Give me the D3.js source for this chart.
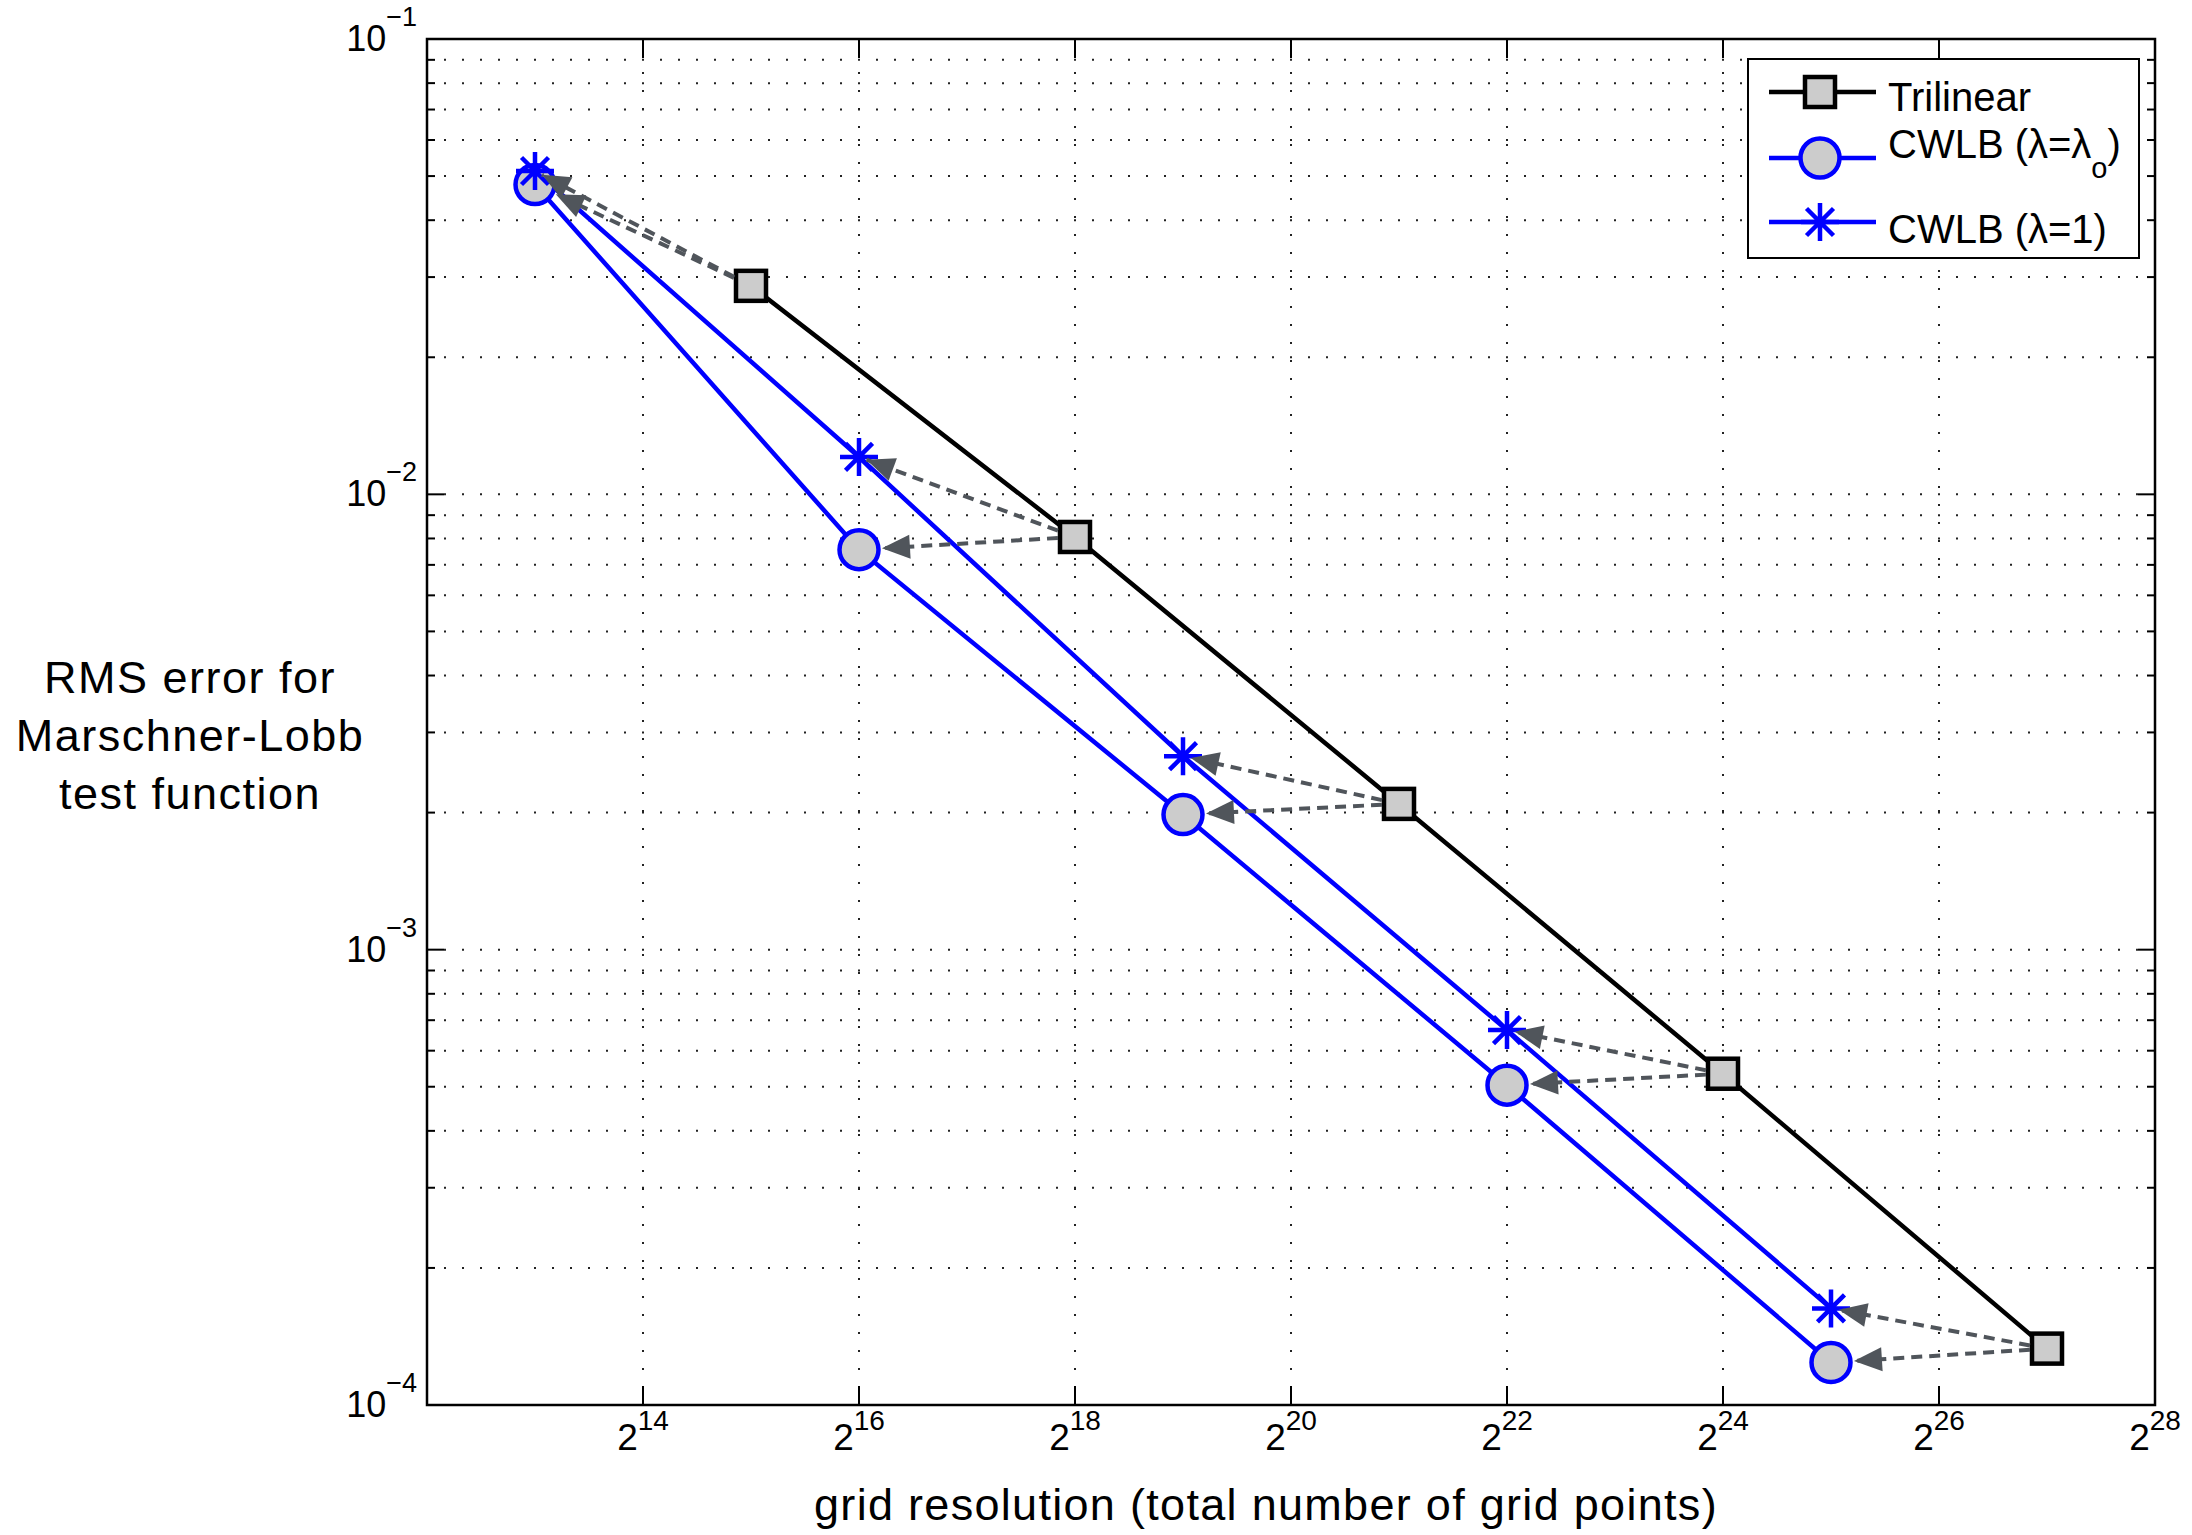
<!DOCTYPE html>
<html>
<head>
<meta charset="utf-8">
<script src="https://cdn.jsdelivr.net/npm/d3@7"></script>
<style>
body { margin: 0; background: #fff; overflow: hidden; }
svg { display: block; }
text { font-family: "Liberation Sans", Arial, Helvetica, sans-serif; fill: #000; }
</style>
</head>
<body>
<script>
// grid sizes as powers of two, RMS errors
var trilinearExp = [15, 18, 21, 24, 27];
var trilinearErr = [0.0287, 0.00806, 0.00209, 0.000534, 0.000133];
var cwlbExp = [13, 16, 19, 22, 25];
var cwlbOptErr = [0.0479, 0.00756, 0.00198, 0.000504, 0.000124];
var cwlbOneErr = [0.0513, 0.01208, 0.00266, 0.000666, 0.000163];
var xTickExp = [14, 16, 18, 20, 22, 24, 26, 28];
var yTickExp = [-4, -3, -2, -1];

var W = 2192, H = 1535;
var margin = {top: 39, right: 37, bottom: 130, left: 427};
var gray = "#cccccc", blue = "#0000ff", arrowCol = "#50555b";

var svg = d3.select("body").append("svg")
    .attr("width", W)
    .attr("height", H);

var x = d3.scaleLog().base(2).domain([Math.pow(2, 12), Math.pow(2, 28)])
    .range([margin.left, W - margin.right]);
var y = d3.scaleLog().domain([1e-4, 1e-1])
    .range([H - margin.bottom, margin.top]);

var x0 = x.range()[0], x1 = x.range()[1], y0 = y.range()[0], y1 = y.range()[1];

//Dotted grid
var grid = svg.append("g").attr("stroke", "#222").attr("stroke-width", 2)
    .attr("stroke-dasharray", "2,16");
var yAll = y.ticks().filter(function(v) { return v > 1.0001e-4 && v < 0.0999; });
grid.selectAll(".hg").data(yAll).enter().append("line")
    .attr("x1", x0).attr("x2", x1)
    .attr("y1", function(d) { return y(d); }).attr("y2", function(d) { return y(d); })
    .attr("stroke-dashoffset", -17);
grid.selectAll(".vg").data(xTickExp.slice(0, -1)).enter().append("line")
    .attr("y1", y0).attr("y2", y1)
    .attr("x1", function(d) { return x(Math.pow(2, d)); })
    .attr("x2", function(d) { return x(Math.pow(2, d)); })
    .attr("stroke-dashoffset", -17);

//Ticks (inward, on all four sides)
var ticks = svg.append("g").attr("stroke", "#000").attr("stroke-width", 2);
yAll.concat([1e-4, 1e-1]).forEach(function(v) {
  var m = Math.abs(Math.log10(v) - Math.round(Math.log10(v))) < 1e-6;
  var len = m ? 17 : 8;
  ticks.append("line").attr("x1", x0).attr("x2", x0 + len).attr("y1", y(v)).attr("y2", y(v));
  ticks.append("line").attr("x1", x1).attr("x2", x1 - len).attr("y1", y(v)).attr("y2", y(v));
});
xTickExp.forEach(function(e) {
  var px = x(Math.pow(2, e));
  ticks.append("line").attr("x1", px).attr("x2", px).attr("y1", y0).attr("y2", y0 - 19);
  ticks.append("line").attr("x1", px).attr("x2", px).attr("y1", y1).attr("y2", y1 + 19);
});

//Axes box
svg.append("rect")
    .attr("x", x0).attr("y", y1)
    .attr("width", x1 - x0).attr("height", y0 - y1)
    .attr("fill", "none").attr("stroke", "#000").attr("stroke-width", 2.5);

//Tick labels
yTickExp.forEach(function(e) {
  var t = svg.append("text")
      .attr("x", x0 - 10).attr("y", y(Math.pow(10, e)) + 12)
      .attr("text-anchor", "end").style("font-size", "36px");
  t.append("tspan").text("10");
  t.append("tspan").attr("dy", -25).style("font-size", "27px").text("\u2212" + (-e));
});
xTickExp.forEach(function(e) {
  var t = svg.append("text")
      .attr("x", x(Math.pow(2, e))).attr("y", y0 + 45)
      .attr("text-anchor", "middle").style("font-size", "37px");
  t.append("tspan").text("2");
  t.append("tspan").attr("dy", -20).style("font-size", "28px").text(e);
});

//Axis labels
svg.append("text")
    .attr("x", 1266).attr("y", 1520)
    .attr("text-anchor", "middle")
    .style("font-size", "45px").style("letter-spacing", "1.3px")
    .text("grid resolution (total number of grid points)");

var ylab = svg.append("text").attr("text-anchor", "middle")
    .style("font-size", "45px").style("letter-spacing", "1.5px");
["RMS error for", "Marschner-Lobb", "test function"].forEach(function(s, i) {
  ylab.append("tspan").attr("x", 190).attr("y", 693 + i * 58).text(s);
});

//Series lines
function pts(ex, err) {
  return ex.map(function(e, i) { return [x(Math.pow(2, e)), y(err[i])]; });
}
var line = d3.line();
var triP = pts(trilinearExp, trilinearErr),
    optP = pts(cwlbExp, cwlbOptErr),
    oneP = pts(cwlbExp, cwlbOneErr);

svg.append("path").attr("d", line(triP)).attr("fill", "none")
    .attr("stroke", "#000").attr("stroke-width", 4.5);
svg.append("path").attr("d", line(optP)).attr("fill", "none")
    .attr("stroke", blue).attr("stroke-width", 4.5);
svg.append("path").attr("d", line(oneP)).attr("fill", "none")
    .attr("stroke", blue).attr("stroke-width", 4.5);

//Marker helpers
function square(g, p) {
  g.append("rect").attr("x", p[0] - 15).attr("y", p[1] - 15)
      .attr("width", 30).attr("height", 30)
      .attr("fill", gray).attr("stroke", "#000").attr("stroke-width", 4.5);
}
function circle(g, p) {
  g.append("circle").attr("cx", p[0]).attr("cy", p[1]).attr("r", 19.5)
      .attr("fill", gray).attr("stroke", blue).attr("stroke-width", 4.5);
}
function star(g, p) {
  var r = 19, d = 13.5;
  g.append("path")
      .attr("d", "M" + (p[0] - r) + "," + p[1] + "h" + 2 * r +
                 "M" + p[0] + "," + (p[1] - r) + "v" + 2 * r +
                 "M" + (p[0] - d) + "," + (p[1] - d) + "l" + 2 * d + "," + 2 * d +
                 "M" + (p[0] - d) + "," + (p[1] + d) + "l" + 2 * d + "," + -2 * d)
      .attr("stroke", blue).attr("stroke-width", 4.5).attr("fill", "none");
}

var marks = svg.append("g");
triP.forEach(function(p) { square(marks, p); });
optP.forEach(function(p) { circle(marks, p); });
oneP.forEach(function(p) { star(marks, p); });

//Arrows from each trilinear point to the CWLB points
svg.append("defs").append("marker")
    .attr("id", "head")
    .attr("markerUnits", "userSpaceOnUse")
    .attr("viewBox", "-29 -13 30 26")
    .attr("markerWidth", 30).attr("markerHeight", 26)
    .attr("refX", 0).attr("refY", 0)
    .attr("orient", "auto")
  .append("path")
    .attr("d", "M0,0L-28,-12L-28,12Z")
    .attr("fill", arrowCol);

function arrow(a, b, endGap) {
  var dx = b[0] - a[0], dy = b[1] - a[1], L = Math.sqrt(dx * dx + dy * dy);
  var ux = dx / L, uy = dy / L;
  var s = 17 / Math.max(Math.abs(ux), Math.abs(uy));
  svg.append("line")
      .attr("x1", a[0] + ux * s).attr("y1", a[1] + uy * s)
      .attr("x2", b[0] - ux * endGap).attr("y2", b[1] - uy * endGap)
      .attr("stroke", arrowCol).attr("stroke-width", 4)
      .attr("stroke-dasharray", "11,7")
      .attr("marker-end", "url(#head)");
}
triP.forEach(function(p, i) {
  arrow(p, oneP[i], 8);
  arrow(p, optP[i], 23);
});

//Legend
var lg = svg.append("g");
lg.append("rect").attr("x", 1748).attr("y", 59).attr("width", 391).attr("height", 199)
    .attr("fill", "#fff").attr("stroke", "#000").attr("stroke-width", 2);
var ly = [92, 158, 222];
lg.append("line").attr("x1", 1769).attr("x2", 1876).attr("y1", ly[0]).attr("y2", ly[0])
    .attr("stroke", "#000").attr("stroke-width", 4.5);
lg.append("line").attr("x1", 1769).attr("x2", 1876).attr("y1", ly[1]).attr("y2", ly[1])
    .attr("stroke", blue).attr("stroke-width", 4.5);
lg.append("line").attr("x1", 1769).attr("x2", 1876).attr("y1", ly[2]).attr("y2", ly[2])
    .attr("stroke", blue).attr("stroke-width", 4.5);
square(lg, [1820, ly[0]]);
circle(lg, [1820, ly[1]]);
star(lg, [1820, ly[2]]);

lg.append("text").attr("x", 1888).attr("y", 111).style("font-size", "40px").text("Trilinear");
var t2 = lg.append("text").attr("x", 1888).attr("y", 158).style("font-size", "40px");
t2.append("tspan").text("CWLB (\u03bb=\u03bb");
t2.append("tspan").attr("dy", 20).style("font-size", "29px").text("o");
t2.append("tspan").attr("dy", -20).text(")");
lg.append("text").attr("x", 1888).attr("y", 243).style("font-size", "40px").text("CWLB (\u03bb=1)");
</script>
</body>
</html>
